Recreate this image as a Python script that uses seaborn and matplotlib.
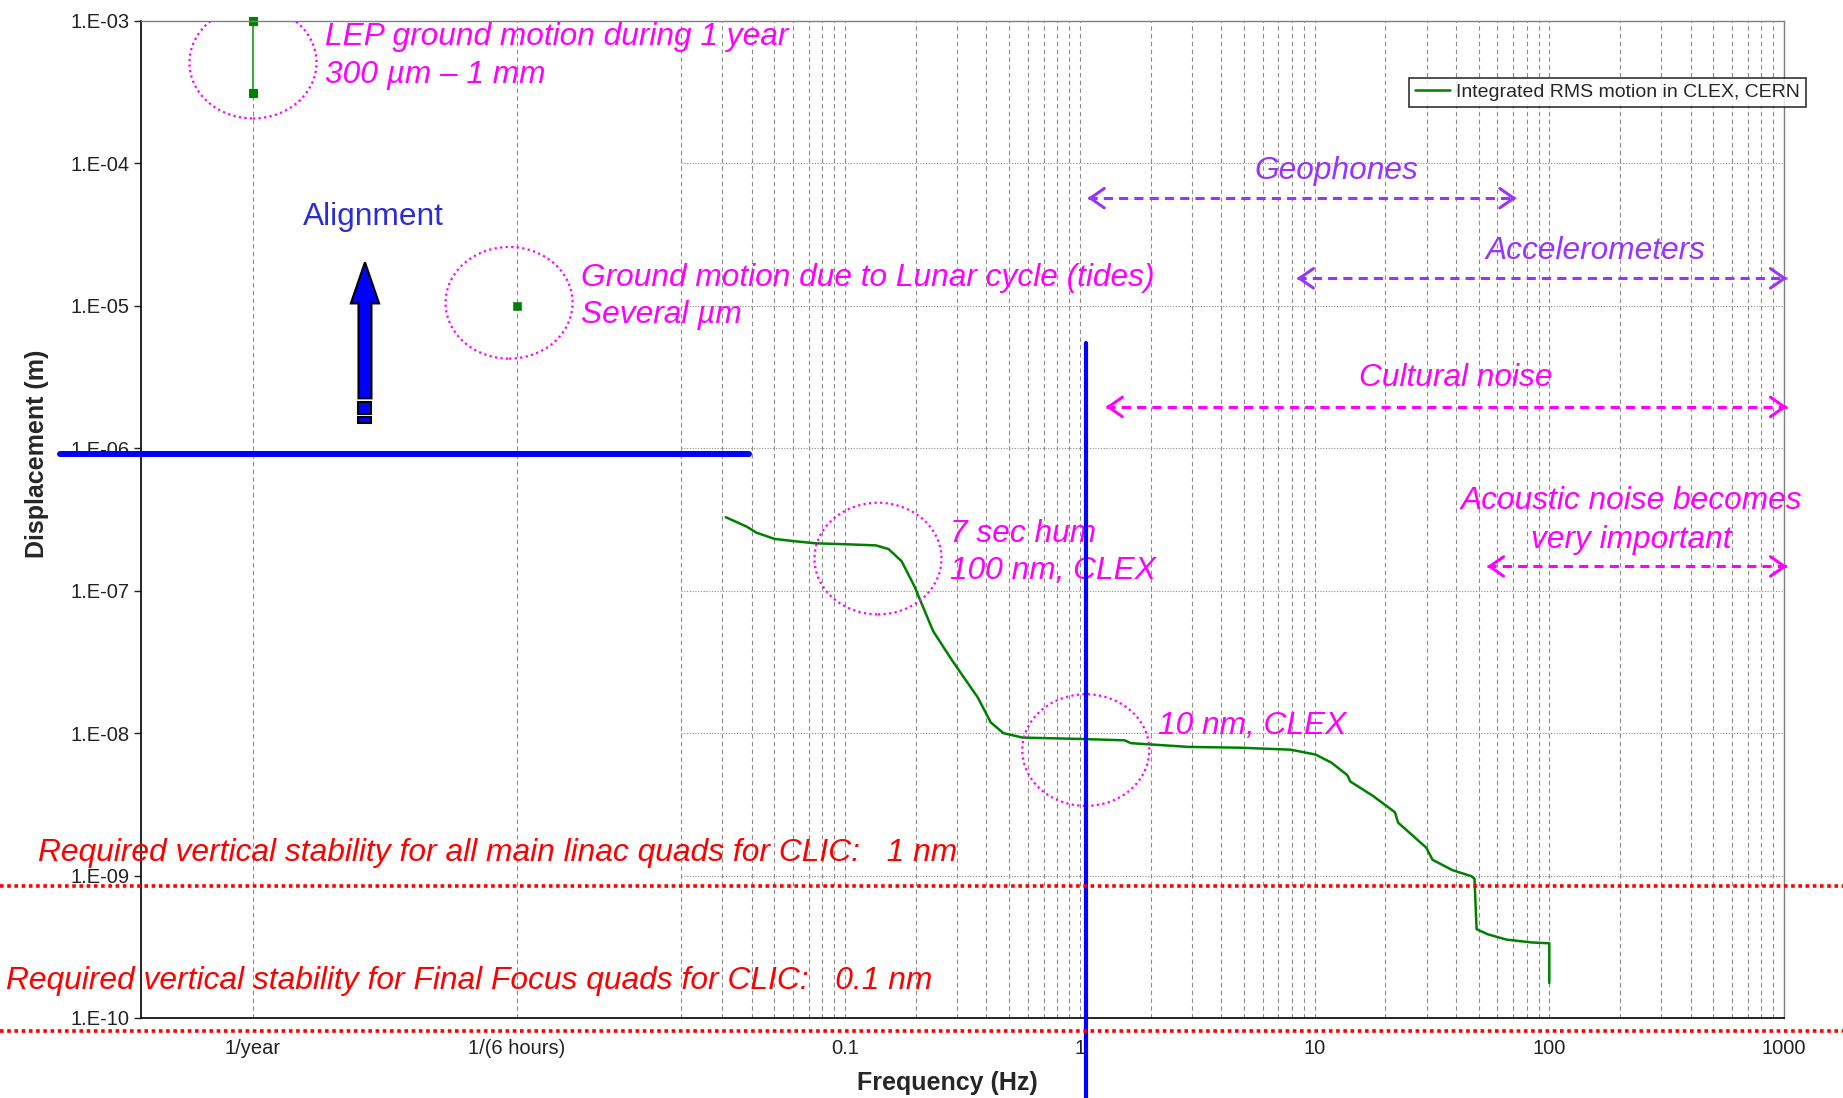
import matplotlib
matplotlib.use("Agg")
import matplotlib.pyplot as plt
import seaborn as sns
from matplotlib.patches import Ellipse, FancyArrow, Rectangle
from matplotlib.ticker import FixedLocator, NullLocator

# Integrated RMS motion in CLEX
freq_hz = [0.031, 0.038, 0.042, 0.050, 0.060, 0.075, 0.099, 0.135, 0.153, 0.174,
           0.197, 0.237, 0.287, 0.368, 0.417, 0.472, 0.57, 1.0, 1.55, 1.65,
           2.9, 4.76, 7.9, 10.1, 11.8, 13.8, 14.2, 17.7, 22.0, 22.7,
           29.9, 31.8, 38.7, 46.5, 48.0, 49.0, 54.6, 65.7, 84.0, 97.5,
           100.0, 100.0]
disp_m = [3.28e-7, 2.82e-7, 2.55e-7, 2.31e-7, 2.23e-7, 2.15e-7, 2.12e-7, 2.08e-7, 1.96e-7, 1.61e-7,
          1.08e-7, 5.2e-8, 3.2e-8, 1.77e-8, 1.19e-8, 1.0e-8, 9.3e-9, 9.1e-9, 8.9e-9, 8.5e-9,
          8.0e-9, 7.9e-9, 7.65e-9, 7.07e-9, 6.2e-9, 5.06e-9, 4.57e-9, 3.63e-9, 2.78e-9, 2.35e-9,
          1.57e-9, 1.29e-9, 1.09e-9, 9.9e-10, 9.5e-10, 4.2e-10, 3.87e-10, 3.55e-10, 3.39e-10, 3.35e-10,
          3.35e-10, 1.76e-10]

# slow ground motion points, drawn at the "1/year" and "1/(6 hours)" slots
x_year = 3.0e-4
x_6h = 4.0e-3
lep_disp = [1.0e-3, 3.1e-4]
tide_disp = [1.0e-5]

ytick_vals = [1e-10, 1e-9, 1e-8, 1e-7, 1e-6, 1e-5, 1e-4, 1e-3]
ytick_labels = ["1.E-10", "1.E-09", "1.E-08", "1.E-07", "1.E-06", "1.E-05", "1.E-04", "1.E-03"]
xtick_vals = [x_year, x_6h, 0.1, 1, 10, 100, 1000]
xtick_labels = ["1/year", "1/(6 hours)", "0.1", "1", "10", "100", "1000"]

# reference levels
align_limit = 9.1e-7      # alignment region boundary
freq_limit = 1.06         # vertical blue divider (Hz)
linac_req = 8.4e-10       # 1 nm requirement line
ff_req = 8.1e-11          # 0.1 nm requirement line

mag = "#FF00FF"
purple = "#9933FF"
grid_c = "#8c8c8c"

sns.set_style("white")
plt.rcParams['font.family'] = ['Liberation Sans', 'DejaVu Sans']

fig = plt.figure(figsize=(18.43, 10.98), dpi=100)
ax = fig.add_axes([0.0765, 0.0729, 0.8915, 0.9080])
ax.set_xscale('log')
ax.set_yscale('log')
ax.set_xlim(1e-4, 1000)
ax.set_ylim(1e-10, 1e-3)

# grid: log minor lines only from 0.02 Hz upward
minor_x = [round(m * 10.0 ** e, 6) for e in range(-2, 3) for m in range(1, 10)]
minor_x = [v for v in minor_x if v >= 0.02] + [1000]
ax.vlines([x_year, x_6h] + minor_x, 1e-10, 1e-3, colors=grid_c,
          linestyles=(0, (4, 3)), lw=0.8, zorder=0)
ax.hlines(ytick_vals[1:-1], 0.02, 1000, colors=grid_c,
          linestyles=(0, (1, 1.5)), lw=0.8, zorder=0)

# data
sns.lineplot(x=freq_hz, y=disp_m, ax=ax, color="#008000", lw=1.8,
             estimator=None, sort=False, label="Integrated RMS motion in CLEX, CERN")
sns.lineplot(x=[x_year, x_year], y=lep_disp, ax=ax, color="#3caa3c", lw=1.5,
             marker='s', markersize=6, markerfacecolor="#008000",
             markeredgecolor="#008000", estimator=None, sort=False, clip_on=False)
sns.scatterplot(x=[x_6h], y=tide_disp, ax=ax, marker='s', s=30,
                color="#008000", edgecolor="#008000", zorder=5)

handles, labels = ax.get_legend_handles_labels()
leg = ax.legend(handles[:1], labels[:1], loc='upper left', bbox_to_anchor=(0.772, 0.943),
                frameon=True, fancybox=False, edgecolor='black', fontsize=14,
                handlelength=1.8, handletextpad=0.3, borderpad=0.3, borderaxespad=0)
leg.get_frame().set_linewidth(1.2)

# ticks and spines
ax.xaxis.set_major_locator(FixedLocator(xtick_vals))
ax.set_xticklabels(xtick_labels)
ax.xaxis.set_minor_locator(NullLocator())
ax.yaxis.set_major_locator(FixedLocator(ytick_vals))
ax.set_yticklabels(ytick_labels)
ax.yaxis.set_minor_locator(NullLocator())
ax.tick_params(axis='x', length=0, labelsize=14.5, pad=15, colors='#222222')
ax.tick_params(axis='y', left=True, length=5, width=1, labelsize=14.5, direction='out',
               colors='#222222', pad=3)
for s in ['left', 'bottom']:
    ax.spines[s].set_color('black')
    ax.spines[s].set_linewidth(1.2)
for s in ['top', 'right']:
    ax.spines[s].set_color('#808080')
    ax.spines[s].set_linewidth(1.0)

ax.set_xlabel("Frequency (Hz)", fontsize=18, fontweight='bold')
ax.xaxis.set_label_coords(0.491, -0.053)
ax.set_ylabel("Displacement (m)", fontsize=18, fontweight='bold')
ax.yaxis.set_label_coords(-0.056, 0.566)


def to_axes(x, y):
    return ax.transAxes.inverted().transform(ax.transData.transform((x, y)))


# dotted circles
for cx, cy in [(3.0e-4, 5.1e-4), (3.7e-3, 1.05e-5), (0.138, 1.68e-7), (1.06, 7.6e-9)]:
    ex, ey = to_axes(cx, cy)
    ax.add_patch(Ellipse((ex, ey), 0.0773, 0.112, transform=ax.transAxes, fill=False,
                         ec=mag, lw=1.6, ls=(0, (1, 1.5)), zorder=4))

# blue reference lines
ax.axhline(align_limit, xmin=-0.049, xmax=0.37, color='#0000FF', lw=4.3, clip_on=False, zorder=6)
ax.axvline(freq_limit, ymin=-0.08, ymax=0.677, color='#0000FF', lw=3.0, clip_on=False, zorder=6)

# red requirement lines across the whole figure
for lvl in [linac_req, ff_req]:
    ax.axhline(lvl, xmin=-0.086, xmax=1.04, color='#FF0000', lw=2.6,
               ls=(0, (1, 1)), clip_on=False, zorder=6)

# alignment arrow with broken tail
ax_x, ax_y = to_axes(9.0e-4, 1.5e-6)
ax.add_patch(FancyArrow(ax_x, 0.6215, 0, 0.1365, width=0.0079, head_width=0.0172,
                        head_length=0.0413, length_includes_head=True, transform=ax.transAxes,
                        fc='#0000FF', ec='black', lw=1.5, zorder=6))
for y0, h in [(0.6061, 0.0118), (0.5967, 0.0059)]:
    ax.add_patch(Rectangle((ax_x - 0.00395, y0), 0.0079, h, transform=ax.transAxes,
                           fc='#0000FF', ec='black', lw=1.5, zorder=6))


def range_arrow(x1, x2, y, color):
    ax.plot([x1, x2], [y, y], color=color, lw=2.2, ls=(0, (3, 2)), zorder=5, clip_on=False)
    for xa, xb in [(x1, x1 * 1.04), (x2, x2 / 1.04)]:
        ax.annotate('', xy=(xa, y), xytext=(xb, y), annotation_clip=False,
                    arrowprops=dict(arrowstyle='->,head_length=0.5,head_width=0.35',
                                    color=color, lw=2.2, mutation_scale=20,
                                    shrinkA=0, shrinkB=0), zorder=5)


range_arrow(1.08, 72.4, 5.7e-5, purple)
range_arrow(8.4, 1030, 1.56e-5, purple)
range_arrow(1.29, 1030, 1.95e-6, mag)
range_arrow(54.3, 1030, 1.48e-7, mag)

fs = 22.8
ax.text(6.1e-4, 7.7e-4, "LEP ground motion during 1 year", color=mag, style='italic', fontsize=fs, va='center')
ax.text(6.1e-4, 4.2e-4, "300 µm – 1 mm", color=mag, style='italic', fontsize=fs, va='center')
ax.text(4.9e-4, 4.18e-5, "Alignment", color='#2B2BD9', fontsize=fs, va='center')
ax.text(7.5e-3, 1.58e-5, "Ground motion due to Lunar cycle (tides)", color=mag, style='italic', fontsize=fs, va='center')
ax.text(7.5e-3, 8.6e-6, "Several µm", color=mag, style='italic', fontsize=fs, va='center')
ax.text(12.4, 8.8e-5, "Geophones", color=purple, style='italic', fontsize=fs, va='center', ha='center')
ax.text(157, 2.41e-5, "Accelerometers", color=purple, style='italic', fontsize=fs, va='center', ha='center')
ax.text(39.8, 3.09e-6, "Cultural noise", color=mag, style='italic', fontsize=fs, va='center', ha='center')
ax.text(224, 4.28e-7, "Acoustic noise becomes", color=mag, style='italic', fontsize=fs, va='center', ha='center')
ax.text(224, 2.28e-7, "very important", color=mag, style='italic', fontsize=fs, va='center', ha='center')
ax.text(0.279, 2.51e-7, "7 sec hum", color=mag, style='italic', fontsize=fs, va='center')
ax.text(0.279, 1.37e-7, "100 nm, CLEX", color=mag, style='italic', fontsize=fs, va='center')
ax.text(2.16, 1.13e-8, "10 nm, CLEX", color=mag, style='italic', fontsize=fs, va='center')
ax.text(3.63e-5, 1.45e-9, "Required vertical stability for all main linac quads for CLIC:   1 nm",
        color='#FF0000', style='italic', fontsize=22.9, va='center')
ax.text(2.66e-5, 1.83e-10, "Required vertical stability for Final Focus quads for CLIC:   0.1 nm",
        color='#FF0000', style='italic', fontsize=22.9, va='center')

fig.savefig("out.png", dpi=100)
